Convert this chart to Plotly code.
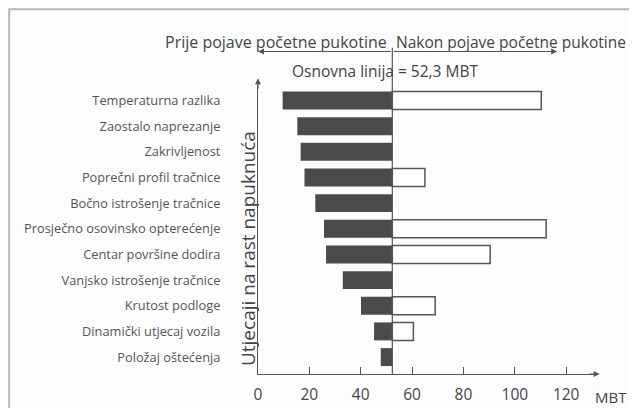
import plotly.graph_objects as go

BASELINE = 52.3

factors = [
    "Temperaturna razlika",
    "Zaostalo naprezanje",
    "Zakrivljenost",
    "Poprečni profil tračnice",
    "Bočno istrošenje tračnice",
    "Prosječno osovinsko opterećenje",
    "Centar površine dodira",
    "Vanjsko istrošenje tračnice",
    "Krutost podloge",
    "Dinamički utjecaj vozila",
    "Položaj oštećenja",
]
# MBT vrijednosti: lijevi kraj (prije pukotine) i desni kraj (nakon pukotine)
before_crack = [9.6, 15.3, 16.6, 18.1, 22.3, 25.7, 26.5, 33.0, 40.1, 45.2, 47.8]
after_crack = [110.3, None, None, 65.0, None, 112.2, 90.4, None, 69.0, 60.5, None]
x_ticks = [0, 20, 40, 60, 80, 100, 120]

TEXT = "#444444"
DARK = "#4b4b4b"
LINE = "#555555"

fig = go.Figure()
fig.add_trace(go.Bar(
    y=factors,
    x=[BASELINE - v for v in before_crack],
    base=before_crack,
    orientation="h",
    width=0.7,
    marker=dict(color=DARK, line=dict(color=DARK, width=0)),
    showlegend=False,
))
fig.add_trace(go.Bar(
    y=factors,
    x=[(v - BASELINE) if v is not None else None for v in after_crack],
    base=BASELINE,
    orientation="h",
    width=0.7,
    marker=dict(color="white", line=dict(color=LINE, width=1.5)),
    showlegend=False,
))

# osnovna linija
fig.add_shape(type="line", xref="x", yref="paper", x0=BASELINE, x1=BASELINE,
              y0=0, y1=1.11, line=dict(color=LINE, width=1.2), layer="above")
# okvir
fig.add_shape(type="rect", xref="paper", yref="paper", x0=-0.734, x1=1.2, y0=-0.2, y1=1.241,
              line=dict(color="#b8b8b8", width=2), layer="below")

annotations = [
    dict(text="Prije pojave početne pukotine", x=BASELINE, y=1.13, xref="x", yref="paper",
         xanchor="right", yanchor="middle", xshift=-3, showarrow=False,
         font=dict(size=16, color=TEXT)),
    dict(text="Nakon pojave početne pukotine", x=BASELINE, y=1.13, xref="x", yref="paper",
         xanchor="left", yanchor="middle", xshift=2, showarrow=False,
         font=dict(size=15.5, color=TEXT)),
    dict(text="Osnovna linija = 52,3 MBT", x=BASELINE, y=1.032, xref="x", yref="paper",
         xanchor="center", yanchor="middle", xshift=-7, showarrow=False,
         font=dict(size=15.5, color=TEXT)),
    dict(text="Utjecaji na rast napuknuća", x=0, y=0.425, xref="paper", yref="paper",
         xanchor="center", yanchor="middle", xshift=-10, textangle=-90, showarrow=False,
         font=dict(size=19, color=TEXT)),
    dict(text="MBT", x=1, y=0, xref="paper", yref="paper", xanchor="left", yanchor="top",
         xshift=-4, yshift=-11, showarrow=False, font=dict(size=15, color=TEXT)),
    # strelice iznad grafa
    dict(x=0, y=1.097, ax=BASELINE, ay=0, xref="x", yref="paper", axref="x", ayref="pixel",
         text="", showarrow=True, arrowhead=2, arrowsize=1, arrowwidth=1.2, arrowcolor=LINE),
    dict(x=116.5, y=1.097, ax=BASELINE, ay=0, xref="x", yref="paper", axref="x", ayref="pixel",
         text="", showarrow=True, arrowhead=2, arrowsize=1, arrowwidth=1.2, arrowcolor=LINE),
    # strelice osi
    dict(x=1.008, y=0, ax=-12, ay=0, xref="paper", yref="paper", text="", showarrow=True,
         arrowhead=2, arrowsize=1, arrowwidth=1.2, arrowcolor=LINE),
    dict(x=0, y=1.006, ax=0, ay=12, xref="paper", yref="paper", text="", showarrow=True,
         arrowhead=2, arrowsize=1, arrowwidth=1.2, arrowcolor=LINE),
]

fig.update_layout(
    width=621,
    height=400,
    barmode="overlay",
    paper_bgcolor="#fdfdfd",
    plot_bgcolor="#fdfdfd",
    font=dict(family="Open Sans", color=TEXT),
    margin=dict(l=250, r=32, t=72, b=34),
    annotations=annotations,
    xaxis=dict(
        range=[0, 132],
        tickvals=x_ticks,
        ticks="inside",
        ticklen=7,
        tickcolor=LINE,
        showline=True,
        linecolor=LINE,
        linewidth=1.2,
        showgrid=False,
        zeroline=False,
        automargin=False,
        ticklabelstandoff=6,
        tickfont=dict(size=15.5, color=TEXT),
    ),
    yaxis=dict(
        categoryorder="array",
        categoryarray=factors,
        range=[10.66, -0.8],
        showline=True,
        linecolor=LINE,
        linewidth=1.2,
        showgrid=False,
        zeroline=False,
        automargin=False,
        ticks="",
        ticklabelstandoff=34,
        tickfont=dict(size=12.8, color="#555555"),
    ),
)

fig.write_html("out.html")
